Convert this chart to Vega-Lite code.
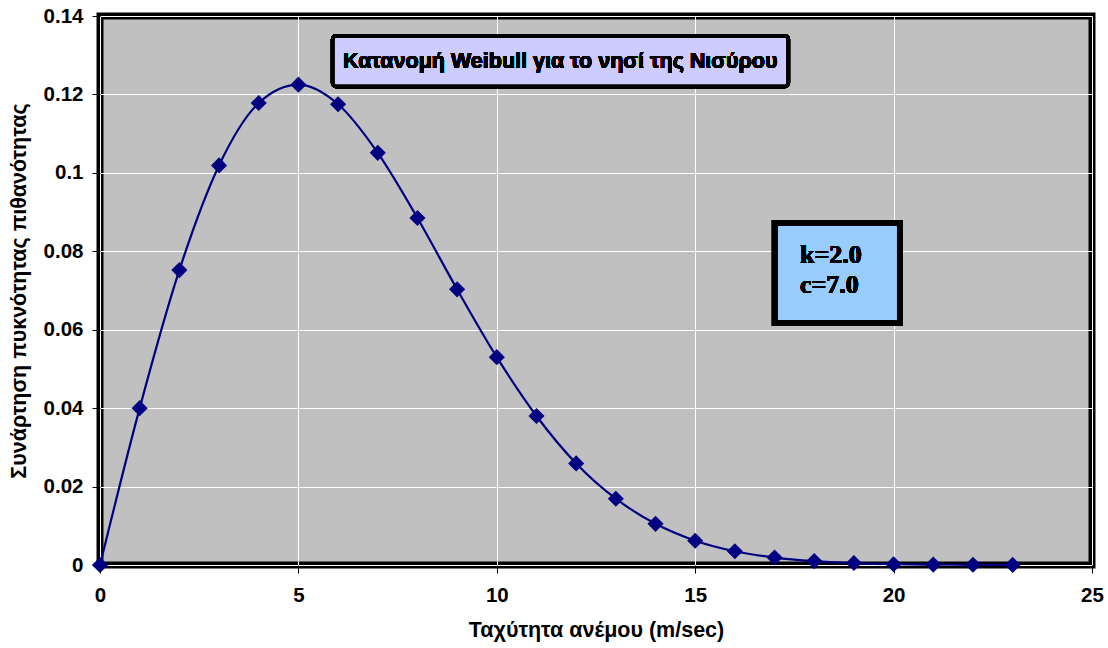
{
  "$schema": "https://vega.github.io/schema/vega-lite/v6.json",
  "autosize": {"type": "none"},
  "width": 992,
  "height": 549,
  "padding": {"left": 100, "top": 16, "right": 16, "bottom": 83},
  "background": "white",
  "config": {
    "view": {"fill": "#C0C0C0", "stroke": "black", "strokeWidth": 7},
    "axis": {
      "domain": false,
      "grid": true,
      "gridColor": "white",
      "gridWidth": 1,
      "gridOpacity": 1,
      "tickColor": "black",
      "tickSize": 8,
      "tickWidth": 1,
      "labelFlush": false,
      "labelOverlap": false,
      "labelFont": "Liberation Sans",
      "labelFontWeight": "bold",
      "labelFontSize": 20.5,
      "labelColor": "black",
      "titleFont": "Liberation Sans",
      "titleFontWeight": "bold",
      "titleFontSize": 21.5,
      "titleColor": "black"
    }
  },
  "data": {
    "values": [
      {"v": 0, "f": 0},
      {"v": 1, "f": 0.0400},
      {"v": 2, "f": 0.0752},
      {"v": 3, "f": 0.1019},
      {"v": 4, "f": 0.1178},
      {"v": 5, "f": 0.1225},
      {"v": 6, "f": 0.1175},
      {"v": 7, "f": 0.1051},
      {"v": 8, "f": 0.0885},
      {"v": 9, "f": 0.0703},
      {"v": 10, "f": 0.0530},
      {"v": 11, "f": 0.0380},
      {"v": 12, "f": 0.0259},
      {"v": 13, "f": 0.0169},
      {"v": 14, "f": 0.0105},
      {"v": 15, "f": 0.0062},
      {"v": 16, "f": 0.0035},
      {"v": 17, "f": 0.0019},
      {"v": 18, "f": 0.0010},
      {"v": 19, "f": 0.0005},
      {"v": 20, "f": 0.0002},
      {"v": 21, "f": 0.0001},
      {"v": 22, "f": 0.00005},
      {"v": 23, "f": 0.00002}
    ]
  },
  "encoding": {
    "x": {
      "field": "v",
      "type": "quantitative",
      "scale": {"domain": [0, 25], "nice": false, "zero": false},
      "axis": {
        "values": [0, 5, 10, 15, 20, 25],
        "title": "Ταχύτητα ανέμου (m/sec)",
        "labelPadding": 12,
        "titlePadding": 14
      }
    },
    "y": {
      "field": "f",
      "type": "quantitative",
      "scale": {"domain": [0, 0.14], "nice": false, "zero": false},
      "axis": {
        "values": [0, 0.02, 0.04, 0.06, 0.08, 0.1, 0.12, 0.14],
        "format": ".2~f",
        "title": "Συνάρτηση πυκνότητας πιθανότητας",
        "labelPadding": 9,
        "titlePadding": 13
      }
    }
  },
  "layer": [
    {
      "mark": {"type": "line", "interpolate": "monotone", "color": "#000080", "strokeWidth": 2.2}
    },
    {
      "mark": {"type": "point", "shape": "diamond", "filled": true, "size": 260, "color": "#000080", "opacity": 1}
    },
    {
      "mark": {"type": "rect", "fill": "#CCCCFF", "stroke": "black", "strokeWidth": 4, "cornerRadius": 3},
      "encoding": {
        "x": {"datum": 5.87, "type": "quantitative"},
        "x2": {"datum": 17.34},
        "y": {"datum": 0.1349, "type": "quantitative"},
        "y2": {"datum": 0.1221}
      }
    },
    {
      "mark": {"type": "text", "text": "Κατανομή Weibull για το νησί της Νισύρου", "font": "Liberation Sans", "fontWeight": "bold", "fontSize": 21.5, "align": "center", "baseline": "middle", "color": "black"},
      "encoding": {
        "x": {"datum": 11.6, "type": "quantitative"},
        "y": {"datum": 0.1283, "type": "quantitative"}
      }
    },
    {
      "mark": {"type": "rect", "fill": "#99CCFF", "stroke": "black", "strokeWidth": 6},
      "encoding": {
        "x": {"datum": 17.01, "type": "quantitative"},
        "x2": {"datum": 20.16},
        "y": {"datum": 0.0872, "type": "quantitative"},
        "y2": {"datum": 0.0617}
      }
    },
    {
      "mark": {"type": "text", "text": "k=2.0", "font": "Liberation Serif", "fontWeight": "bold", "fontSize": 26, "align": "left", "baseline": "alphabetic", "color": "black"},
      "encoding": {
        "x": {"datum": 17.64, "type": "quantitative"},
        "y": {"datum": 0.0770, "type": "quantitative"}
      }
    },
    {
      "mark": {"type": "text", "text": "c=7.0", "font": "Liberation Serif", "fontWeight": "bold", "fontSize": 26, "align": "left", "baseline": "alphabetic", "color": "black"},
      "encoding": {
        "x": {"datum": 17.64, "type": "quantitative"},
        "y": {"datum": 0.0694, "type": "quantitative"}
      }
    }
  ]
}
